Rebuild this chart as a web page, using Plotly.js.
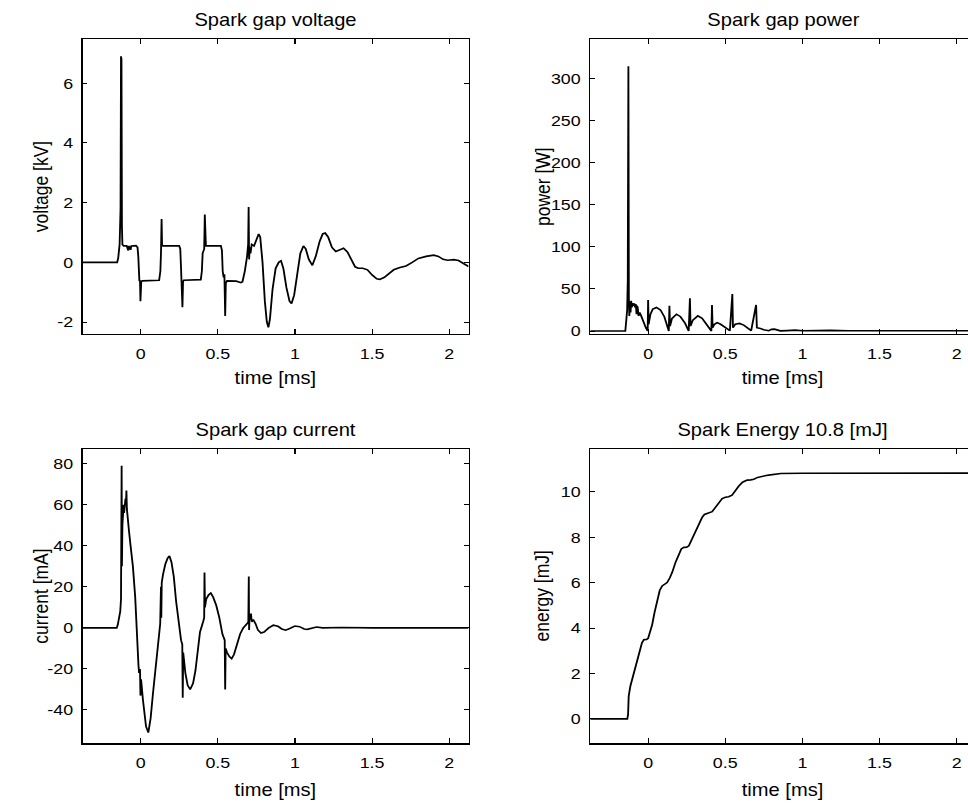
<!DOCTYPE html>
<html>
<head>
<meta charset="utf-8">
<script src="https://cdn.plot.ly/plotly-3.0.1.min.js"></script>
<style>
html,body{margin:0;padding:0;overflow:hidden;background:#fff;width:968px;height:807px;}
#plot{transform-origin:0 0;}
</style>
</head>
<body>
<div id="plot"></div>
<script>
// ---- data ----
const voltageT = [-0.375,-0.152,-0.145,-0.136,-0.130,-0.127,-0.124,-0.121,-0.118,-0.11,-0.09,-0.08,-0.075,-0.065,-0.06,-0.03,-0.02,-0.015,-0.012,-0.008,-0.004,-0.001,0.004,0.01,0.12,0.128,0.132,0.136,0.139,0.142,0.25,0.257,0.262,0.266,0.271,0.275,0.28,0.39,0.397,0.402,0.412,0.416,0.419,0.423,0.52,0.527,0.532,0.538,0.543,0.548,0.552,0.56,0.62,0.65,0.66,0.675,0.69,0.697,0.700,0.703,0.707,0.712,0.72,0.735,0.75,0.765,0.775,0.79,0.805,0.818,0.828,0.838,0.855,0.875,0.895,0.91,0.925,0.945,0.965,0.978,0.995,1.015,1.035,1.055,1.07,1.09,1.113,1.135,1.16,1.18,1.196,1.215,1.24,1.265,1.29,1.315,1.34,1.37,1.39,1.41,1.44,1.47,1.5,1.53,1.55,1.58,1.61,1.64,1.68,1.72,1.76,1.8,1.85,1.9,1.93,1.96,1.99,2.03,2.06,2.1,2.125];
const voltageKV = [0,0,0.15,0.6,1.8,6.9,6.8,1.2,0.6,0.55,0.55,0.4,0.55,0.42,0.55,0.56,0.5,0.2,-0.5,-0.62,-0.6,-1.3,-0.65,-0.62,-0.6,-0.3,0.3,1.45,0.6,0.55,0.55,0.45,-0.2,-0.6,-1.5,-0.65,-0.6,-0.58,-0.3,0.3,0.45,1.6,0.6,0.55,0.55,0.4,-0.3,-0.5,-0.4,-1.8,-0.7,-0.62,-0.63,-0.68,-0.65,-0.3,0.2,0.6,1.85,0.1,0.5,0.3,0.6,0.55,0.75,0.95,0.85,0.0,-1.3,-2.0,-2.18,-1.9,-0.9,-0.2,0.0,0.05,-0.2,-0.85,-1.3,-1.38,-1.1,-0.4,0.3,0.55,0.45,0.1,-0.1,0.2,0.7,0.95,0.98,0.85,0.5,0.36,0.42,0.47,0.35,0.05,-0.15,-0.2,-0.2,-0.25,-0.42,-0.55,-0.57,-0.5,-0.37,-0.25,-0.17,-0.12,0.0,0.13,0.2,0.24,0.2,0.1,0.07,0.09,0.06,-0.08,-0.14];

const powerT = [-0.375,-0.148,-0.142,-0.136,-0.132,-0.128,-0.125,-0.122,-0.118,-0.114,-0.11,-0.106,-0.10,-0.095,-0.09,-0.085,-0.08,-0.075,-0.072,-0.068,-0.062,-0.055,-0.045,-0.03,-0.015,-0.003,0.000,0.003,0.015,0.03,0.054,0.08,0.105,0.125,0.134,0.138,0.142,0.155,0.184,0.21,0.24,0.258,0.263,0.271,0.275,0.29,0.322,0.35,0.38,0.405,0.41,0.414,0.418,0.43,0.447,0.47,0.5,0.52,0.53,0.546,0.55,0.565,0.592,0.62,0.645,0.668,0.70,0.705,0.728,0.75,0.782,0.80,0.819,0.84,0.857,0.90,0.953,1.0,1.05,1.18,1.3,2.125];
const powerW = [0,0,12,25,60,315,40,18,35,22,36,28,33,30,33,28,32,20,30,28,18,22,18,10,4,0,37,8,20,26,28,25,17,6,0,30,6,15,20,17,9,2,0,39,6,13,18,15,8,1,0,31,4,8,10,8,4,1,0.5,44,4,8,9,7,3,0.5,31,4,3,1.5,0.3,2,2.2,1,0.2,0.5,1,0.3,0.5,0.8,0.3,0.3];

const currentT = [-0.375,-0.155,-0.148,-0.14,-0.132,-0.127,-0.123,-0.121,-0.118,-0.115,-0.112,-0.11,-0.107,-0.104,-0.101,-0.098,-0.095,-0.092,-0.089,-0.086,-0.083,-0.075,-0.065,-0.05,-0.035,-0.025,-0.018,-0.014,-0.01,-0.004,-0.001,0.003,0.015,0.035,0.05,0.065,0.08,0.095,0.11,0.122,0.127,0.132,0.134,0.137,0.145,0.16,0.175,0.187,0.2,0.215,0.23,0.245,0.262,0.27,0.273,0.276,0.29,0.305,0.321,0.34,0.355,0.37,0.385,0.405,0.412,0.414,0.417,0.425,0.44,0.455,0.47,0.49,0.51,0.53,0.54,0.545,0.548,0.551,0.56,0.575,0.59,0.605,0.625,0.645,0.665,0.68,0.695,0.698,0.701,0.703,0.706,0.71,0.715,0.72,0.73,0.745,0.76,0.78,0.80,0.83,0.86,0.89,0.915,0.94,0.97,1.0,1.03,1.06,1.08,1.11,1.14,1.18,1.3,1.5,2.125];
const currentMA = [0,0,1.5,4,8,14,79,30,50,55,52,60,56,62,57,63,60,67,58,55,51,47,40,30,15,-5,-8,-18,-22,-20,-33,-25,-35,-48,-51,-44,-32,-20,-8,0,2,20,5,22,26,31,34,35,32,25,13,3,-6,-8,-34,-12,-22,-28,-30,-27,-21,-10,-2,3,5,27,10,14,16,17,15,11,5,-3,-5,-6,-30,-10,-12,-14,-15,-13,-8,-3,0,1.5,2.5,2,25,-1,6,4,7,3,4,2,-1,-2.5,-2,0,1.3,0.8,-0.5,-1.1,-0.2,0.9,0.6,-0.5,-0.7,0,0.4,0,0.2,0,0];

const energyT = [-0.375,-0.135,-0.130,-0.126,-0.115,-0.093,-0.061,-0.04,-0.028,-0.01,0.0,0.012,0.026,0.042,0.058,0.075,0.091,0.11,0.123,0.14,0.156,0.178,0.199,0.215,0.232,0.25,0.264,0.28,0.296,0.323,0.35,0.365,0.383,0.4,0.415,0.435,0.458,0.48,0.501,0.522,0.544,0.565,0.588,0.612,0.642,0.665,0.685,0.71,0.739,0.765,0.793,0.83,0.86,1.0,1.5,2.125];
const energyMJ = [0,0,0.2,1.0,1.45,2.0,2.9,3.35,3.48,3.5,3.55,3.8,4.14,4.7,5.24,5.65,5.85,5.95,6.0,6.2,6.45,6.9,7.25,7.48,7.55,7.56,7.62,7.85,8.1,8.55,8.87,9.0,9.05,9.07,9.12,9.3,9.52,9.7,9.76,9.78,9.85,10.05,10.25,10.42,10.51,10.52,10.55,10.63,10.69,10.71,10.74,10.78,10.8,10.81,10.82,10.82];

const timeTicks = [0,0.5,1,1.5,2];
const timeTickText = ["0","0.5","1","1.5","2"];
const voltageTicks = [-2,0,2,4,6];
const voltageTickText = ["-2","0","2","4","6"];
const powerTicks = [0,50,100,150,200,250,300];
const powerTickText = ["0","50","100","150","200","250","300"];
const currentTicks = [-40,-20,0,20,40,60,80];
const currentTickText = ["-40","-20","0","20","40","60","80"];
const energyTicks = [0,2,4,6,8,10];
const energyTickText = ["0","2","4","6","8","10"];

const titles = ["Spark gap voltage","Spark gap power","Spark gap current","Spark Energy 10.8 [mJ]"];
const yTitles = ["voltage [kV]","power [W]","current [mA]","energy [mJ]"];
const xTitle = "time [ms]";

// ---- layout helpers ----
const S = 1.15;           // slight horizontal stretch of the original figure
const FW = 1000;          // final layout width (px, after stretch)
const H = 807;
const IW = FW / S;        // internal plotly width
const FONT = "Liberation Sans, Arial, Helvetica, sans-serif";
const fsTick = 15.5;
const fsTitle = 17.5;

const xL = [82.7/FW, 468.3/FW], xR = [590/FW, 975.4/FW];
const yT = [1-333.7/H, 1-39.3/H], yB = [1-743.2/H, 1-449/H];
const xRange = [-0.375, 2.125];

function xax(dom, anchor){
  return {domain: dom, anchor: anchor, range: xRange, tickvals: timeTicks, ticktext: timeTickText,
    ticks: 'inside', ticklen: 5, tickwidth: 1, tickcolor: '#000', mirror: 'allticks',
    showline: true, linecolor: '#000', linewidth: 1.3, showgrid: false, zeroline: false,
    ticklabelstandoff: 5, tickfont: {family: FONT, size: fsTick, color: '#000'}};
}
function yax(dom, anchor, range, tv, tt){
  return {domain: dom, anchor: anchor, range: range, tickvals: tv, ticktext: tt,
    ticks: 'inside', ticklen: 4, tickwidth: 1, tickcolor: '#000', mirror: 'allticks',
    showline: true, linecolor: '#000', linewidth: 1.3, showgrid: false, zeroline: false,
    ticklabelstandoff: 4, tickfont: {family: FONT, size: fsTick, color: '#000'}};
}

const line = {color: '#000', width: 1.6};
const traces = [
  {x: voltageT, y: voltageKV, xaxis: 'x', yaxis: 'y', mode: 'lines', line: line},
  {x: powerT, y: powerW, xaxis: 'x2', yaxis: 'y2', mode: 'lines', line: line},
  {x: currentT, y: currentMA, xaxis: 'x3', yaxis: 'y3', mode: 'lines', line: line},
  {x: energyT, y: energyMJ, xaxis: 'x4', yaxis: 'y4', mode: 'lines', line: line}
];

const cx = [(xL[0]+xL[1])/2, (xR[0]+xR[1])/2];
function ann(text, x, y, angle){
  return {text: text, x: x, y: y, xref: 'paper', yref: 'paper', xanchor: 'center', yanchor: 'middle',
    showarrow: false, textangle: angle || 0, font: {family: FONT, size: fsTitle, color: '#000'}};
}
const annotations = [
  ann(titles[0], cx[0], 1-20/H), ann(titles[1], cx[1], 1-20/H),
  ann(titles[2], cx[0], 1-430/H), ann(titles[3], cx[1], 1-430/H),
  ann(xTitle, cx[0], 1-378/H), ann(xTitle, cx[1], 1-378/H),
  ann(xTitle, cx[0], 1-790/H), ann(xTitle, cx[1], 1-790/H),
  ann(yTitles[0], 41/FW, 1-186.5/H, -90), ann(yTitles[1], 542/FW, 1-186.5/H, -90),
  ann(yTitles[2], 41/FW, 1-596/H, -90), ann(yTitles[3], 542/FW, 1-596/H, -90)
];

const layout = {
  width: IW, height: H, margin: {l: 0, r: 0, t: 0, b: 0},
  paper_bgcolor: '#fff', plot_bgcolor: '#fff', showlegend: false,
  font: {family: FONT, size: fsTick, color: '#000'},
  xaxis: xax(xL, 'y'), yaxis: yax(yT, 'x', [-2.39, 7.47], voltageTicks, voltageTickText),
  xaxis2: xax(xR, 'y2'), yaxis2: yax(yT, 'x2', [-3.2, 347], powerTicks, powerTickText),
  xaxis3: xax(xL, 'y3'), yaxis3: yax(yB, 'x3', [-56.2, 87.2], currentTicks, currentTickText),
  xaxis4: xax(xR, 'y4'), yaxis4: yax(yB, 'x4', [-1.07, 11.88], energyTicks, energyTickText),
  annotations: annotations
};

const el = document.getElementById('plot');
el.style.width = IW + 'px';
el.style.height = H + 'px';
el.style.transform = 'scaleX(' + S + ')';
Plotly.newPlot(el, traces, layout, {staticPlot: true, displayModeBar: false});
</script>
</body>
</html>
